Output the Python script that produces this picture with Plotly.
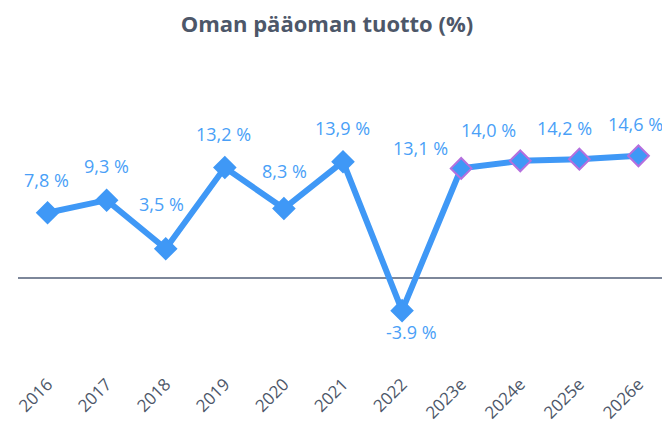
import plotly.graph_objects as go

categories = ["2016", "2017", "2018", "2019", "2020", "2021", "2022", "2023e", "2024e", "2025e", "2026e"]
values = [7.8, 9.3, 3.5, 13.2, 8.3, 13.9, -3.9, 13.1, 14.0, 14.2, 14.6]
labels = ["7,8 %", "9,3 %", "3,5 %", "13,2 %", "8,3 %", "13,9 %", "-3.9 %", "13,1 %", "14,0 %", "14,2 %", "14,6 %"]
is_estimate = [False] * 7 + [True] * 4

# label offsets in pixels (style)
label_dx = [-1, 0, -4, -1, 1, -1, 9, -41, -32, -15, -3]
label_dy = [33, 34, 45, 34, 38, 34, -21, 20, 31, 31, 32]

blue = "#3f98f6"
purple = "#b46fde"
font_family = "Open Sans"

fig = go.Figure()
fig.add_trace(go.Scatter(
    x=categories, y=values, mode="lines+markers",
    line=dict(color=blue, width=6),
    marker=dict(symbol="diamond", size=16, color=blue, opacity=1,
                line=dict(color=[purple if e else blue for e in is_estimate], width=2)),
    hoverinfo="skip", showlegend=False,
))

for i, (v, t, dx, dy) in enumerate(zip(values, labels, label_dx, label_dy)):
    fig.add_annotation(x=i, y=v, xref="x", yref="y", text=t, showarrow=False, xshift=dx, yshift=dy,
                       font=dict(family=font_family, size=18, color="#4a9ff7"))

fig.update_layout(
    width=670, height=431,
    margin=dict(l=10, r=10, t=52, b=69, autoexpand=False),
    paper_bgcolor="white", plot_bgcolor="white",
    title=dict(text="<b>Oman pääoman tuotto (%)</b>", x=0.476, xanchor="center", y=0.962, yanchor="middle",
               font=dict(family=font_family, size=22, color="#4d5769")),
    xaxis=dict(type="category", range=[-0.5, 10.5], showgrid=False, showline=False, zeroline=False,
               automargin=False, tickangle=-45, ticks="",
               tickfont=dict(family=font_family, size=17, color="#4d5769")),
    yaxis=dict(range=[-10.99, 26.05], showgrid=False, showticklabels=False, ticks="", automargin=False,
               zeroline=True, zerolinecolor="#7d879a", zerolinewidth=1.5, showline=False),
)

fig.write_html("out.html")
